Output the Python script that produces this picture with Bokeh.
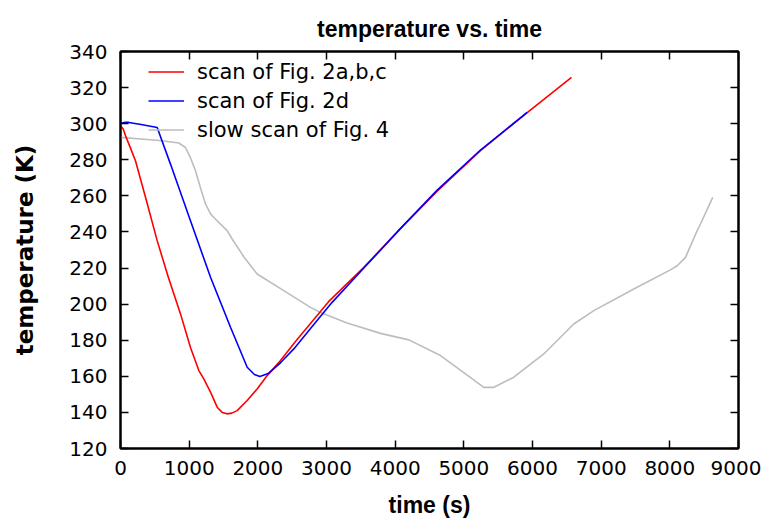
from bokeh.plotting import figure
from bokeh.models import LinearAxis, FixedTicker, Legend, LegendItem, Range1d
from bokeh.embed import file_html
from bokeh.resources import INLINE

# ---- data ----
red_time = [0, 40, 73, 140, 218, 380, 534, 700, 874, 1019, 1141, 1213, 1311, 1408, 1480, 1553, 1620, 1699,
            1845, 1990, 2136, 2330, 2560, 2903, 3033, 3544, 4100, 4612, 5242, 5900, 6568]
red_temp = [298.8, 297.0, 293.3, 287.0, 279.5, 257.0, 235.2, 214.5, 194.6, 176.0, 163.2, 158.6, 151.2, 142.9, 140.0, 139.2, 139.6, 141.0,
            146.6, 153.0, 160.4, 168.7, 179.8, 195.5, 201.5, 220.4, 242.8, 262.6, 285.0, 305.5, 325.6]

blue_time = [0, 60, 121, 300, 534, 728, 1019, 1311, 1602, 1845, 1950, 2030, 2150, 2330, 2524,
             2800, 3082, 3544, 4100, 4612, 5242, 5922]
blue_temp = [300.1, 300.7, 300.7, 299.5, 297.9, 277.6, 246.2, 214.9, 187.2, 165.0, 161.0, 159.9, 161.5, 167.5, 175.2,
             188.0, 201.0, 220.0, 242.8, 263.2, 285.4, 306.2]

gray_time = [0, 300, 600, 850, 946, 1020, 1092, 1160, 1238, 1311, 1359, 1553, 1626, 1800, 1990,
             2378, 2767, 2903, 3300, 3786, 4200, 4660, 5024, 5291, 5437, 5728, 6164, 6601, 6893,
             7475, 8009, 8107, 8228, 8398, 8446, 8625]
gray_temp = [292.4, 291.5, 290.5, 289.3, 286.8, 281.0, 273.9, 265.0, 255.5, 250.0, 248.0, 240.7, 236.1, 226.0, 216.7,
             207.5, 198.2, 195.5, 189.6, 183.8, 180.2, 171.5, 161.4, 153.9, 153.9, 159.5, 172.4, 189.0, 196.4,
             208.4, 219.0, 221.3, 225.9, 240.7, 244.4, 259.2]

labels = ["scan of Fig. 2a,b,c", "scan of Fig. 2d", "slow scan of Fig. 4"]
x_ticks = [0, 1000, 2000, 3000, 4000, 5000, 6000, 7000, 8000, 9000]
y_ticks = [120, 140, 160, 180, 200, 220, 240, 260, 280, 300, 320, 340]

p = figure(width=761, height=524, x_range=Range1d(0, 9000), y_range=Range1d(120, 340),
           output_backend="svg", toolbar_location=None,
           min_border_left=120, min_border_right=23, min_border_top=51, min_border_bottom=76,
           title="temperature vs. time", x_axis_label="time (s)", y_axis_label="temperature (K)")

p.title.align = "center"
p.title.text_font = "Liberation Sans"
p.title.text_font_size = "23px"
p.title.text_font_style = "bold"
p.title.text_color = "black"
p.title.standoff = 20

p.xgrid.visible = False
p.ygrid.visible = False
p.outline_line_color = "black"
p.outline_line_width = 2
p.background_fill_color = "white"

def style_axis(ax, ticks, show_labels=True):
    ax.ticker = FixedTicker(ticks=ticks)
    ax.axis_line_color = "black"
    ax.axis_line_width = 2
    ax.major_tick_in = 8
    ax.major_tick_out = 0
    ax.major_tick_line_width = 1.5
    ax.major_tick_line_color = "black"
    ax.minor_tick_line_color = None
    if show_labels:
        ax.major_label_text_font = "DejaVu Sans"
        ax.major_label_text_font_size = "20px"
        ax.major_label_text_color = "black"
    else:
        ax.major_label_text_color = None
        ax.major_label_text_font_size = "1px"
        ax.major_label_standoff = 0

style_axis(p.xaxis[0], x_ticks)
style_axis(p.yaxis[0], y_ticks)
p.xaxis[0].major_label_standoff = 12
p.yaxis[0].major_label_standoff = 13

p.xaxis[0].axis_label_text_font = "Liberation Sans"
p.xaxis[0].axis_label_text_font_size = "23px"
p.xaxis[0].axis_label_text_font_style = "bold"
p.xaxis[0].axis_label_text_color = "black"
p.xaxis[0].axis_label_standoff = 14
p.yaxis[0].axis_label_text_font = "DejaVu Sans"
p.yaxis[0].axis_label_text_font_size = "23px"
p.yaxis[0].axis_label_text_font_style = "bold"
p.yaxis[0].axis_label_text_color = "black"
p.yaxis[0].axis_label_standoff = 28

# mirror axes (ticks only)
top_ax = LinearAxis()
style_axis(top_ax, x_ticks, show_labels=False)
p.add_layout(top_ax, "above")
right_ax = LinearAxis()
style_axis(right_ax, y_ticks, show_labels=False)
p.add_layout(right_ax, "right")

r_gray = p.line(gray_time, gray_temp, line_color="#bdbdbd", line_width=1.6)
r_red = p.line(red_time, red_temp, line_color="#ff0000", line_width=1.6)
r_blue = p.line(blue_time, blue_temp, line_color="#0000ff", line_width=1.6)

legend = Legend(items=[LegendItem(label=labels[0], renderers=[r_red]),
                       LegendItem(label=labels[1], renderers=[r_blue]),
                       LegendItem(label=labels[2], renderers=[r_gray])],
                location=(28, 306), padding=0, margin=0, spacing=4,
                glyph_width=36, glyph_height=25, label_height=25, label_standoff=13,
                label_text_font="DejaVu Sans", label_text_font_size="21px",
                label_text_color="black",
                border_line_color=None, background_fill_alpha=0)
p.add_layout(legend)

open("out.html", "w").write(file_html(p, INLINE))
